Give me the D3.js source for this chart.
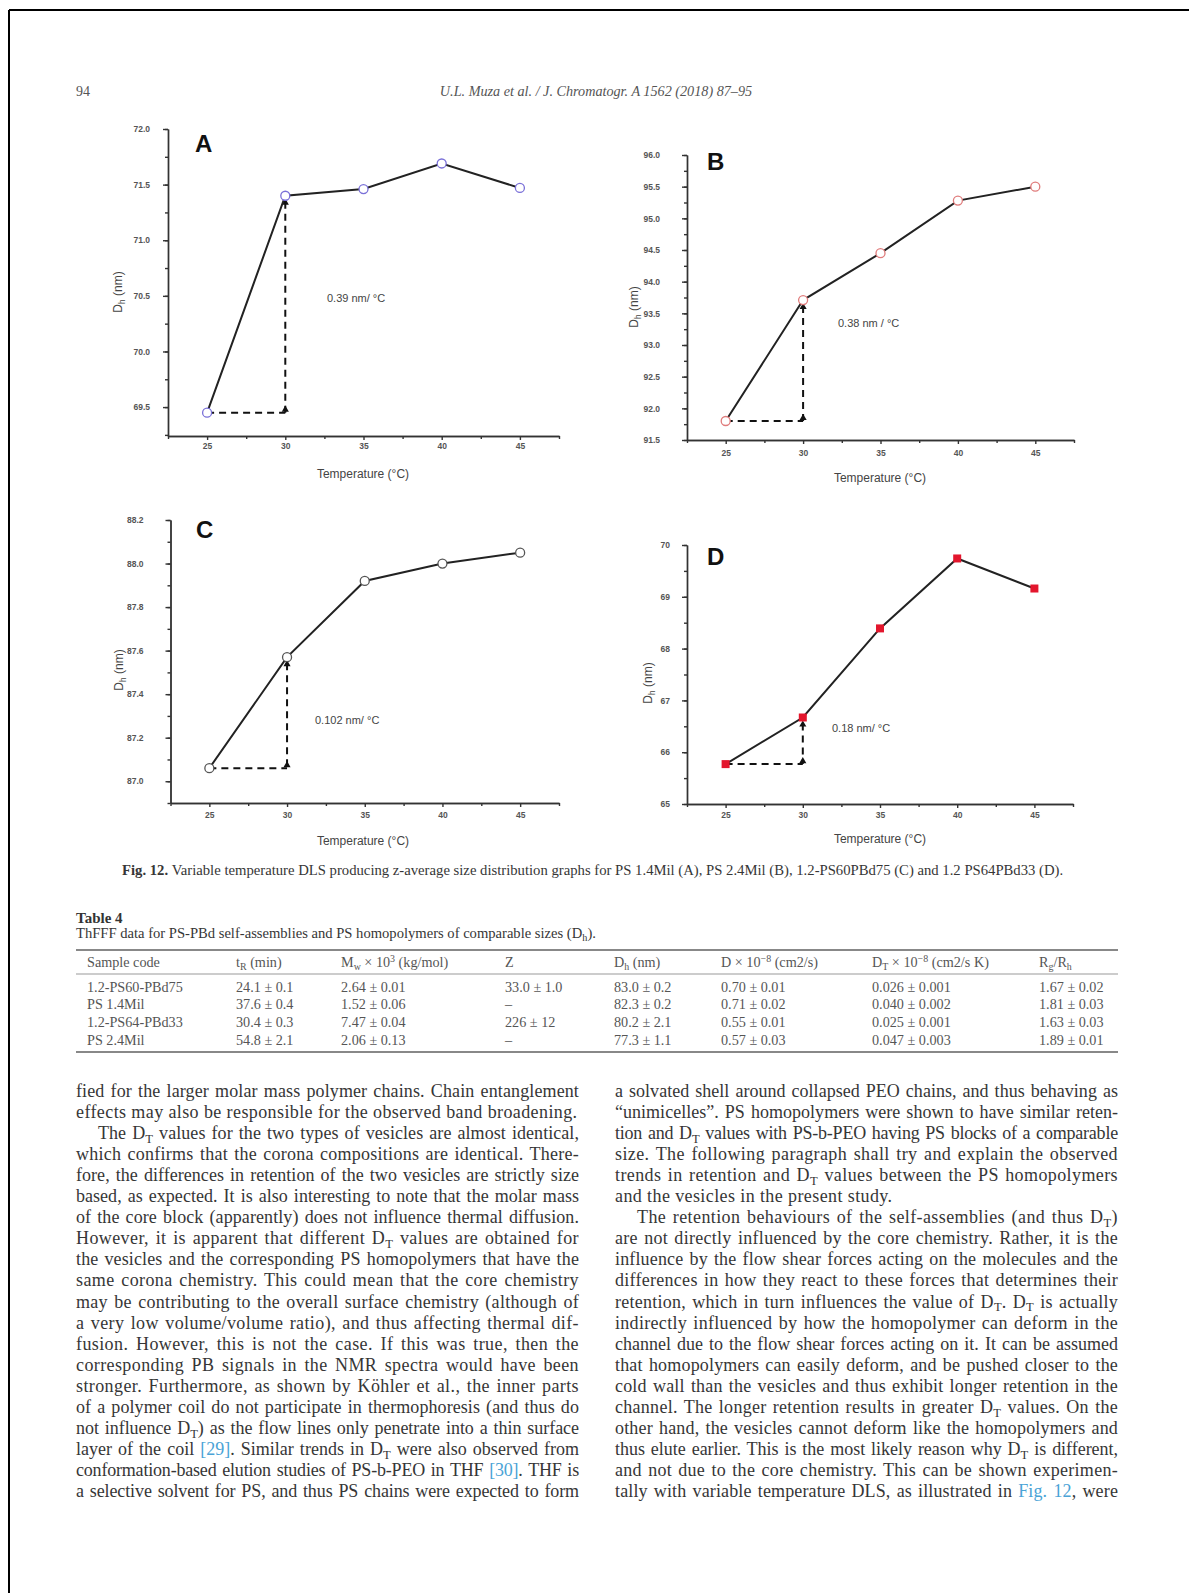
<!DOCTYPE html>
<html>
<head>
<meta charset="utf-8">
<script src="https://cdn.jsdelivr.net/npm/d3@7"></script>
<style>
body { margin: 0; background: #fff; }
svg { display: block; }
</style>
</head>
<body>
<svg id="page" width="1189" height="1593"></svg>
<script>
// ---- chart values ----
var temps = [25, 30, 35, 40, 45];
var dhA = [69.45, 71.40, 71.46, 71.69, 71.47];
var dhB = [91.80, 93.71, 94.45, 95.28, 95.50];
var dhC = [87.06, 87.57, 87.92, 88.00, 88.05];
var dhD = [65.77, 66.67, 68.39, 69.74, 69.16];

var xTicks = [25, 30, 35, 40, 45];
var xMinor = [22.5, 27.5, 32.5, 37.5, 42.5, 47.5];
var yTicksA = [69.5, 70.0, 70.5, 71.0, 71.5, 72.0];
var yTicksB = [91.5, 92.0, 92.5, 93.0, 93.5, 94.0, 94.5, 95.0, 95.5, 96.0];
var yTicksC = [87.0, 87.2, 87.4, 87.6, 87.8, 88.0, 88.2];
var yTicksD = [65, 66, 67, 68, 69, 70];
var slopeLabels = ["0.39 nm/ °C", "0.38 nm / °C", "0.102 nm/ °C", "0.18 nm/ °C"];
var panelNames = ["A", "B", "C", "D"];

// ---- table values ----
var colHeads = ["Sample code", "t_R (min)", "M_w × 10^3 (kg/mol)", "Z", "D_h (nm)",
                "D × 10^−8 (cm2/s)", "D_T × 10^−8 (cm2/s K)", "R_g/R_h"];
var sampleCodes = ["1.2-PS60-PBd75", "PS 1.4Mil", "1.2-PS64-PBd33", "PS 2.4Mil"];
var tR = ["24.1 ± 0.1", "37.6 ± 0.4", "30.4 ± 0.3", "54.8 ± 2.1"];
var mw = ["2.64 ± 0.01", "1.52 ± 0.06", "7.47 ± 0.04", "2.06 ± 0.13"];
var zAgg = ["33.0 ± 1.0", "–", "226 ± 12", "–"];
var dh = ["83.0 ± 0.2", "82.3 ± 0.2", "80.2 ± 2.1", "77.3 ± 1.1"];
var dCoef = ["0.70 ± 0.01", "0.71 ± 0.02", "0.55 ± 0.01", "0.57 ± 0.03"];
var dT = ["0.026 ± 0.001", "0.040 ± 0.002", "0.025 ± 0.001", "0.047 ± 0.003"];
var rgRh = ["1.67 ± 0.02", "1.81 ± 0.03", "1.63 ± 0.03", "1.89 ± 0.01"];

// ---- body text, one entry per printed line ----
var leftLines = [
  "fied for the larger molar mass polymer chains. Chain entanglement",
  "effects may also be responsible for the observed band broadening.",
  "The D_T values for the two types of vesicles are almost identical,",
  "which confirms that the corona compositions are identical. There-",
  "fore, the differences in retention of the two vesicles are strictly size",
  "based, as expected. It is also interesting to note that the molar mass",
  "of the core block (apparently) does not influence thermal diffusion.",
  "However, it is apparent that different D_T values are obtained for",
  "the vesicles and the corresponding PS homopolymers that have the",
  "same corona chemistry. This could mean that the core chemistry",
  "may be contributing to the overall surface chemistry (although of",
  "a very low volume/volume ratio), and thus affecting thermal dif-",
  "fusion. However, this is not the case. If this was true, then the",
  "corresponding PB signals in the NMR spectra would have been",
  "stronger. Furthermore, as shown by Köhler et al., the inner parts",
  "of a polymer coil do not participate in thermophoresis (and thus do",
  "not influence D_T) as the flow lines only penetrate into a thin surface",
  "layer of the coil {[29]}. Similar trends in D_T were also observed from",
  "conformation-based elution studies of PS-b-PEO in THF {[30]}. THF is",
  "a selective solvent for PS, and thus PS chains were expected to form"
];
var rightLines = [
  "a solvated shell around collapsed PEO chains, and thus behaving as",
  "“unimicelles”. PS homopolymers were shown to have similar reten-",
  "tion and D_T values with PS-b-PEO having PS blocks of a comparable",
  "size. The following paragraph shall try and explain the observed",
  "trends in retention and D_T values between the PS homopolymers",
  "and the vesicles in the present study.",
  "The retention behaviours of the self-assemblies (and thus D_T)",
  "are not directly influenced by the core chemistry. Rather, it is the",
  "influence by the flow shear forces acting on the molecules and the",
  "differences in how they react to these forces that determines their",
  "retention, which in turn influences the value of D_T. D_T is actually",
  "indirectly influenced by how the homopolymer can deform in the",
  "channel due to the flow shear forces acting on it. It can be assumed",
  "that homopolymers can easily deform, and be pushed closer to the",
  "cold wall than the vesicles and thus exhibit longer retention in the",
  "channel. The longer retention results in greater D_T values. On the",
  "other hand, the vesicles cannot deform like the homopolymers and",
  "thus elute earlier. This is the most likely reason why D_T is different,",
  "and not due to the core chemistry. This can be shown experimen-",
  "tally with variable temperature DLS, as illustrated in {Fig. 12}, were"
];
var leftIndent = [2], leftLast = [1];
var rightIndent = [6], rightLast = [5];

var textColor = "#363636";
var linkColor = "#4aa3d6";
var serif = "'Liberation Serif', 'DejaVu Serif', serif";
var sans = "'Liberation Sans', Arial, sans-serif";

var svg = d3.select("#page");

// page frame (only top and left edges show)
svg.append("line").attr("x1", 9).attr("y1", 10).attr("x2", 1189).attr("y2", 10)
  .attr("stroke", "#000").attr("stroke-width", 2);
svg.append("line").attr("x1", 9).attr("y1", 10).attr("x2", 9).attr("y2", 1593)
  .attr("stroke", "#000").attr("stroke-width", 2);

// writes a string with _sub, ^sup and {link} parts into a text element
function richText(t, str, size) {
  var parts = str.split(/(\{[^}]*\}|_[A-Za-z0-9]+|\^[−\-0-9]+)/).filter(function(s) { return s.length; });
  var shift = 0;
  parts.forEach(function(p) {
    var ts = t.append("tspan"), off = 0, txt = p, small = false;
    if (p[0] === "_") { txt = p.slice(1); off = size * 0.22; small = true; }
    else if (p[0] === "^") { txt = p.slice(1); off = -size * 0.38; small = true; }
    else if (p[0] === "{") { txt = p.slice(1, -1); ts.attr("fill", linkColor); }
    ts.attr("dy", off - shift).text(txt);
    if (small) ts.attr("font-size", size * 0.7);
    shift = off;
  });
  return t;
}

// stretch word gaps so the line fills the column; tighten letters on crowded lines
function justify(t, width, ls) {
  var txt = t.text();
  var n = (txt.match(/ /g) || []).length;
  if (!n) return;
  var len = t.node().getComputedTextLength();
  var minGap = 1.5;
  if ((width - len) / n < minGap) {
    var newLs = ls - (len - width + minGap * n) / txt.length;
    t.style("letter-spacing", newLs + "px");
    len = t.node().getComputedTextLength();
  }
  t.style("word-spacing", ((width - len) / n) + "px");
}

// ---- running header ----
svg.append("text").attr("x", 76).attr("y", 96).attr("font-family", serif)
  .attr("font-size", 14).attr("fill", "#555").text("94");
svg.append("text").attr("x", 596).attr("y", 96).attr("text-anchor", "middle")
  .attr("font-family", serif).attr("font-style", "italic").attr("font-size", 14.2)
  .attr("fill", "#555").text("U.L. Muza et al. / J. Chromatogr. A 1562 (2018) 87–95");

// ---- panels ----
var panels = [
  { vals: dhA, ticks: yTicksA, minorStep: 0.25, fmt: ".1f", yDom: [69.24, 72.0],
    x0: 168, x1: 559, yTop: 129, yBot: 436, letter: [195, 152], slope: [327, 302],
    yTitle: [122, 292], xTitle: [363, 478], labPad: 13, xPad: 3,
    marker: "circle", color: "#7a70d8" },
  { vals: dhB, ticks: yTicksB, minorStep: 0.25, fmt: ".1f", yDom: [91.5, 96.0],
    x0: 687, x1: 1074, yTop: 155, yBot: 440, letter: [707, 170], slope: [838, 327],
    yTitle: [638, 307], xTitle: [880, 482], labPad: 22, xPad: 6,
    marker: "circle", color: "#e07c7c" },
  { vals: dhC, ticks: yTicksC, minorStep: 0.1, fmt: ".1f", yDom: [86.9, 88.2],
    x0: 170.5, x1: 559, yTop: 520, yBot: 803, letter: [196, 538], slope: [315, 724],
    yTitle: [123, 670], xTitle: [363, 845], labPad: 22, xPad: 5,
    marker: "circle", color: "#555" },
  { vals: dhD, ticks: yTicksD, minorStep: 0.5, fmt: "d", yDom: [65, 70],
    x0: 687, x1: 1073, yTop: 545, yBot: 804, letter: [707, 565], slope: [832, 732],
    yTitle: [652, 683], xTitle: [880, 843], labPad: 12, xPad: 4,
    marker: "square", color: "#e3162d" }
];

panels.forEach(function(p, i) {
  var x = d3.scaleLinear().domain([22.5, 47.5]).range([p.x0, p.x1]);
  var y = d3.scaleLinear().domain(p.yDom).range([p.yBot, p.yTop]);
  var g = svg.append("g");

  var yMinor = d3.range(p.ticks[0] - p.minorStep, p.yDom[1] + 1e-9, p.minorStep)
    .filter(function(v) { return v >= p.yDom[0] - 1e-9; });

  // minor ticks
  g.append("g").attr("transform", "translate(0," + p.yBot + ")")
    .call(d3.axisBottom(x).tickValues(xMinor).tickSize(3).tickSizeOuter(0).tickFormat(""));
  g.append("g").attr("transform", "translate(" + p.x0 + ",0)")
    .call(d3.axisLeft(y).tickValues(yMinor).tickSize(3).tickSizeOuter(0).tickFormat(""));

  // major axes
  g.append("g").attr("transform", "translate(0," + p.yBot + ")")
    .call(d3.axisBottom(x).tickValues(xTicks).tickSize(4).tickSizeOuter(0).tickPadding(p.xPad));
  g.append("g").attr("transform", "translate(" + p.x0 + ",0)")
    .call(d3.axisLeft(y).tickValues(p.ticks).tickSize(5).tickSizeOuter(0)
      .tickPadding(p.labPad).tickFormat(d3.format(p.fmt)));
  g.selectAll(".domain, .tick line").attr("stroke", "#333").attr("stroke-width", 1.4);
  g.selectAll(".tick text").attr("font-family", sans).attr("font-size", 8.5)
    .attr("font-weight", "bold").attr("fill", "#555");

  // titles
  g.append("text").attr("x", p.xTitle[0]).attr("y", p.xTitle[1]).attr("text-anchor", "middle")
    .attr("font-family", sans).attr("font-size", 12).attr("fill", "#444")
    .text("Temperature (°C)");
  var yt = g.append("text").attr("text-anchor", "middle")
    .attr("transform", "translate(" + p.yTitle[0] + "," + p.yTitle[1] + ") rotate(-90)")
    .attr("font-family", sans).attr("font-size", 12).attr("fill", "#444");
  richText(yt, "D_h (nm)", 12);

  g.append("text").attr("x", p.letter[0]).attr("y", p.letter[1])
    .attr("font-family", sans).attr("font-weight", "bold").attr("font-size", 24)
    .attr("fill", "#111").text(panelNames[i]);
  g.append("text").attr("x", p.slope[0]).attr("y", p.slope[1])
    .attr("font-family", sans).attr("font-size", 11).attr("fill", "#444")
    .text(slopeLabels[i]);

  // slope triangle between the first two points
  var xa0 = x(temps[0]), xa1 = x(temps[1]), ya0 = y(p.vals[0]), ya1 = y(p.vals[1]);
  g.append("line").attr("x1", xa0).attr("y1", ya0).attr("x2", xa1).attr("y2", ya0)
    .attr("stroke", "#111").attr("stroke-width", 2).attr("stroke-dasharray", "7,5");
  g.append("line").attr("x1", xa1).attr("y1", ya1 + 6).attr("x2", xa1).attr("y2", ya0)
    .attr("stroke", "#111").attr("stroke-width", 2).attr("stroke-dasharray", "7,5");
  [[xa1, ya0 - 3], [xa1, ya1 + 7]].forEach(function(c) {
    g.append("path").attr("d", d3.symbol(d3.symbolTriangle, 22)())
      .attr("transform", "translate(" + c[0] + "," + c[1] + ")").attr("fill", "#111");
  });

  // data line + markers
  var pts = temps.map(function(t, k) { return [t, p.vals[k]]; });
  g.append("path").datum(pts)
    .attr("d", d3.line().x(function(d) { return x(d[0]); }).y(function(d) { return y(d[1]); }))
    .attr("fill", "none").attr("stroke", "#222").attr("stroke-width", 2);
  if (p.marker === "circle") {
    g.selectAll("circle.pt").data(pts).enter().append("circle").attr("class", "pt")
      .attr("cx", function(d) { return x(d[0]); }).attr("cy", function(d) { return y(d[1]); })
      .attr("r", 4.5).attr("fill", "#fff").attr("stroke", p.color).attr("stroke-width", 1.3);
  } else {
    g.selectAll("rect.pt").data(pts).enter().append("rect").attr("class", "pt")
      .attr("x", function(d) { return x(d[0]) - 4; }).attr("y", function(d) { return y(d[1]) - 4; })
      .attr("width", 8).attr("height", 8).attr("fill", p.color);
  }
});

// ---- figure caption ----
var cap = svg.append("text").attr("x", 122).attr("y", 875).attr("font-family", serif)
  .attr("font-size", 14.7).attr("fill", textColor);
cap.append("tspan").attr("font-weight", "bold").text("Fig. 12. ");
cap.append("tspan").text(" Variable temperature DLS producing z-average size distribution graphs for PS 1.4Mil (A), PS 2.4Mil (B), 1.2-PS60PBd75 (C) and 1.2 PS64PBd33 (D).");

// ---- table ----
svg.append("text").attr("x", 76).attr("y", 923).attr("font-family", serif)
  .attr("font-size", 15).attr("font-weight", "bold").attr("fill", "#333").text("Table 4");
richText(svg.append("text").attr("x", 76).attr("y", 938).attr("font-family", serif)
  .attr("font-size", 14.6).attr("fill", textColor),
  "ThFFF data for PS-PBd self-assemblies and PS homopolymers of comparable sizes (D_h).", 14.6);

var tableX0 = 76, tableX1 = 1118;
var colX = [87, 236, 341, 505, 614, 721, 872, 1039];
var columns = [sampleCodes, tR, mw, zAgg, dh, dCoef, dT, rgRh];
svg.append("line").attr("x1", tableX0).attr("x2", tableX1).attr("y1", 950).attr("y2", 950)
  .attr("stroke", "#888").attr("stroke-width", 2);
svg.append("line").attr("x1", tableX0).attr("x2", tableX1).attr("y1", 974).attr("y2", 974)
  .attr("stroke", "#999").attr("stroke-width", 1);
svg.append("line").attr("x1", tableX0).attr("x2", tableX1).attr("y1", 1052).attr("y2", 1052)
  .attr("stroke", "#888").attr("stroke-width", 2);
colHeads.forEach(function(h, c) {
  richText(svg.append("text").attr("x", colX[c]).attr("y", 967).attr("font-family", serif)
    .attr("font-size", 14.2).attr("fill", "#555"), h, 14.2);
});
var rowY = [992, 1009, 1027, 1045];
columns.forEach(function(col, c) {
  svg.selectAll(null).data(col).enter().append("text")
    .attr("x", colX[c]).attr("y", function(d, r) { return rowY[r]; })
    .attr("font-family", serif).attr("font-size", 14.2).attr("fill", "#555")
    .text(function(d) { return d; });
});

// ---- two text columns ----
function drawColumn(lines, x0, width, indents, lasts) {
  var size = 18, lh = 21.05, base = 1097, indent = 22, ls = 0.4;
  lines.forEach(function(line, k) {
    var isIndent = indents.indexOf(k) >= 0;
    var t = svg.append("text").attr("x", x0 + (isIndent ? indent : 0)).attr("y", base + k * lh)
      .attr("font-family", serif).attr("font-size", size).attr("fill", textColor)
      .style("letter-spacing", ls + "px");
    richText(t, line, size);
    if (lasts.indexOf(k) < 0) justify(t, width - (isIndent ? indent : 0), ls);
  });
}
drawColumn(leftLines, 76, 503, leftIndent, leftLast);
drawColumn(rightLines, 615, 503, rightIndent, rightLast);
</script>
</body>
</html>
